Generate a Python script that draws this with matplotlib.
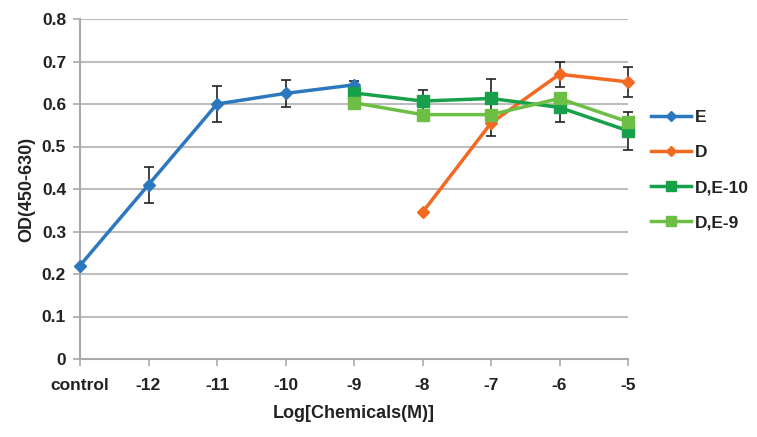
import matplotlib
matplotlib.use("Agg")
import matplotlib.pyplot as plt
import numpy as np
from matplotlib.lines import Line2D

plt.rcParams['font.family'] = ['Liberation Sans', 'DejaVu Sans']

categories = ["control", "-12", "-11", "-10", "-9", "-8", "-7", "-6", "-5"]
E_vals = [0.22, 0.41, 0.60, 0.625, 0.645]
E_err = [0.0, 0.042, 0.042, 0.032, 0.01]
D_vals = [0.345, 0.555, 0.67, 0.652]
D_err = [0.0, 0.03, 0.03, 0.035]
DE10_vals = [0.626, 0.607, 0.613, 0.592, 0.537]
DE10_err = [0.0, 0.025, 0.045, 0.035, 0.045]
DE9_vals = [0.603, 0.575, 0.575, 0.613, 0.558]
DE9_err = [0.0, 0.0, 0.0, 0.0, 0.0]

colors = {"E": "#2C78BE", "D": "#F26A22", "DE10": "#17A04A", "DE9": "#6DBE45"}

fig = plt.figure(figsize=(7.57, 4.37), dpi=100)
ax = fig.add_axes([80/757, 1-359/437, (628-80)/757, (359-19)/437])

x = np.arange(len(categories))
ekw = dict(ecolor="#222222", elinewidth=1.2, capsize=3.5, capthick=1.2)

series = [
    (x[0:5], E_vals, E_err, colors["E"], "D", 6, "E", 3),
    (x[5:9], D_vals, D_err, colors["D"], "D", 6, "D", 4),
    (x[4:9], DE10_vals, DE10_err, colors["DE10"], "s", 9, "D,E-10", 5),
    (x[4:9], DE9_vals, DE9_err, colors["DE9"], "s", 9, "D,E-9", 6),
]
for xs, ys, es, c, m, ms, lab, z in series:
    cont = ax.errorbar(xs, ys, yerr=es, color=c, lw=2.5, marker=m, ms=ms,
                       label=lab, zorder=z, **ekw)
    for art in cont.get_children():
        art.set_clip_on(False)

ax.set_xlim(0, 8)
ax.set_ylim(0, 0.8)
ax.set_yticks(np.arange(0, 0.81, 0.1))
ax.set_yticklabels(["0", "0.1", "0.2", "0.3", "0.4", "0.5", "0.6", "0.7", "0.8"])
ax.set_xticks(x)
ax.set_xticklabels(categories)
ax.grid(axis="y", color="#BDBDBD", lw=1.5)
ax.set_axisbelow(True)
for s in ["top", "right"]:
    ax.spines[s].set_visible(False)
for s in ["left", "bottom"]:
    ax.spines[s].set_color("#AAAAAA")
    ax.spines[s].set_linewidth(1.5)
ax.tick_params(axis="both", colors="#AAAAAA", length=5, width=1.2, labelcolor="#222222",
               labelsize=12.5)
ax.tick_params(axis="x", pad=9)
ax.tick_params(axis="y", pad=5)
for lab in ax.get_xticklabels() + ax.get_yticklabels():
    lab.set_fontweight("bold")

ax.set_xlabel("Log[Chemicals(M)]", fontsize=13, fontweight="bold", color="#222222", labelpad=8)
ax.set_ylabel("OD(450-630)", fontsize=13, fontweight="bold", color="#222222", labelpad=5)

hs = [Line2D([], [], color=colors[k], lw=2.5, marker=m, ms=ms)
      for k, m, ms in [("E", "D", 5), ("D", "D", 5), ("DE10", "s", 7), ("DE9", "s", 7)]]
leg = fig.legend(hs, ["E", "D", "D,E-10", "D,E-9"], loc="upper left",
                 bbox_to_anchor=(637/757, 1-96/437), frameon=False,
                 prop={"size": 12.5, "weight": "bold"}, handlelength=2.3,
                 labelspacing=1.15, handletextpad=0.25, borderpad=0.3)
for t in leg.get_texts():
    t.set_color("#222222")

fig.savefig("out.png", dpi=100)
